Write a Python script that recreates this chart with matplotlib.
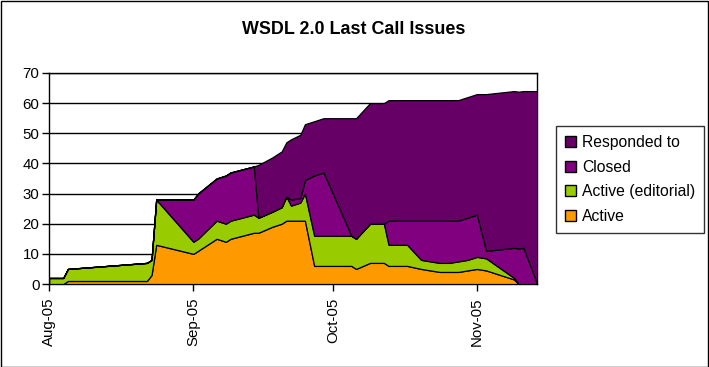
import matplotlib
matplotlib.use("Agg")
import matplotlib.pyplot as plt
import matplotlib.dates as mdates
from matplotlib.patches import Patch, Rectangle
import numpy as np
import datetime as dt

plt.rcParams['font.family'] = ['Liberation Sans', 'DejaVu Sans']

dates = ["2005-08-01", "2005-08-04", "2005-08-05", "2005-08-22", "2005-08-23", "2005-08-24",
         "2005-09-01", "2005-09-02", "2005-09-06", "2005-09-08", "2005-09-09", "2005-09-14",
         "2005-09-15", "2005-09-18", "2005-09-20", "2005-09-21", "2005-09-22", "2005-09-24",
         "2005-09-25", "2005-09-27", "2005-09-29", "2005-10-05", "2005-10-06", "2005-10-09",
         "2005-10-12", "2005-10-13", "2005-10-17", "2005-10-20", "2005-10-24", "2005-10-26",
         "2005-10-28", "2005-10-30", "2005-11-01", "2005-11-03", "2005-11-09", "2005-11-10",
         "2005-11-11", "2005-11-14"]

active = [0, 0, 1, 1, 3, 13,
          10, 11, 15, 14, 15, 17,
          17, 19, 20, 21, 21, 21,
          21, 6, 6, 6, 5, 7,
          7, 6, 6, 5, 4, 4,
          4, 4.5, 5, 4.5, 1.5, 0,
          0, 0]
active_editorial = [2, 2, 4, 6, 5, 15,
                    4, 4, 6, 6, 6, 6,
                    5, 5, 5.5, 8, 5, 6,
                    9, 10, 10, 10, 10, 13,
                    13, 7, 7, 3, 3, 3,
                    3.5, 3.5, 4, 4, 0.5, 0,
                    0, 0]
closed = [0, 0, 0, 0, 0, 0,
          14, 15, 14, 16, 16, 16,
          0, 0, 0, 0, 2, 1.5,
          4.5, 20, 21, 0, 0, 0,
          0, 8, 8, 13, 14, 14,
          13.5, 14, 14, 2.5, 10, 11.8,
          12, 0]
responded = [0, 0, 0, 0, 0, 0,
             0, 0, 0, 0, 0, 0,
             17.5, 18, 18.5, 18, 20, 21,
             18.5, 18, 18, 39, 40, 40,
             40, 40, 40, 40, 40, 40,
             40, 40, 40, 52, 52, 52,
             52, 64]

labels = ["Active", "Active (editorial)", "Closed", "Responded to"]
colors = ["#FF9900", "#99CC00", "#800080", "#660066"]
yticks = [0, 10, 20, 30, 40, 50, 60, 70]
xtick_dates = ["2005-08-01", "2005-09-01", "2005-10-01", "2005-11-01"]
title = "WSDL 2.0 Last Call Issues"

x = [dt.datetime.strptime(d, "%Y-%m-%d") for d in dates]

W, H = 709, 367
fig = plt.figure(figsize=(W / 100, H / 100), dpi=100)
ax = fig.add_axes([49.3 / W, 1 - 284 / H, (537.3 - 49.3) / W, (284 - 73) / H])

ax.stackplot(x, active, active_editorial, closed, responded, colors=colors,
             edgecolor="black", linewidth=0.9, zorder=3)

ax.set_ylim(0, 70)
ax.set_yticks(yticks)
ax.set_xlim(x[0], x[-1])
ax.set_xticks([dt.datetime.strptime(d, "%Y-%m-%d") for d in xtick_dates])
ax.xaxis.set_major_formatter(mdates.DateFormatter("%b-%y"))
ax.grid(axis="y", color="black", linewidth=1, zorder=1)
ax.set_axisbelow(True)
for s in ax.spines.values():
    s.set_color("black")
    s.set_linewidth(1)
ax.tick_params(axis="both", direction="out", length=5, width=1, color="black",
               labelsize=10.8, pad=2)
ax.tick_params(axis="x", pad=5)
plt.setp(ax.get_xticklabels(), rotation=90)

fig.text(354 / W, 1 - 29 / H, title, ha="center", va="center", fontsize=12.9,
         fontweight="bold")

handles = [Patch(facecolor=c, edgecolor="black", linewidth=1) for c in colors]
leg = fig.legend(handles[::-1], labels[::-1], loc="upper left",
                 bbox_to_anchor=(556 / W, 1 - 126 / H), fontsize=11.3,
                 frameon=True, fancybox=False, edgecolor="black",
                 handlelength=0.7, handleheight=0.7, handletextpad=0.35,
                 labelspacing=0.6, borderpad=0.6, borderaxespad=0)
leg.get_frame().set_linewidth(1)

fig.patches.append(Rectangle((0.5 / W, 0.5 / H), 1 - 1.5 / W, 1 - 1.5 / H,
                             transform=fig.transFigure, fill=False,
                             edgecolor="black", linewidth=1))

fig.savefig("out.png", dpi=100, facecolor="white")
